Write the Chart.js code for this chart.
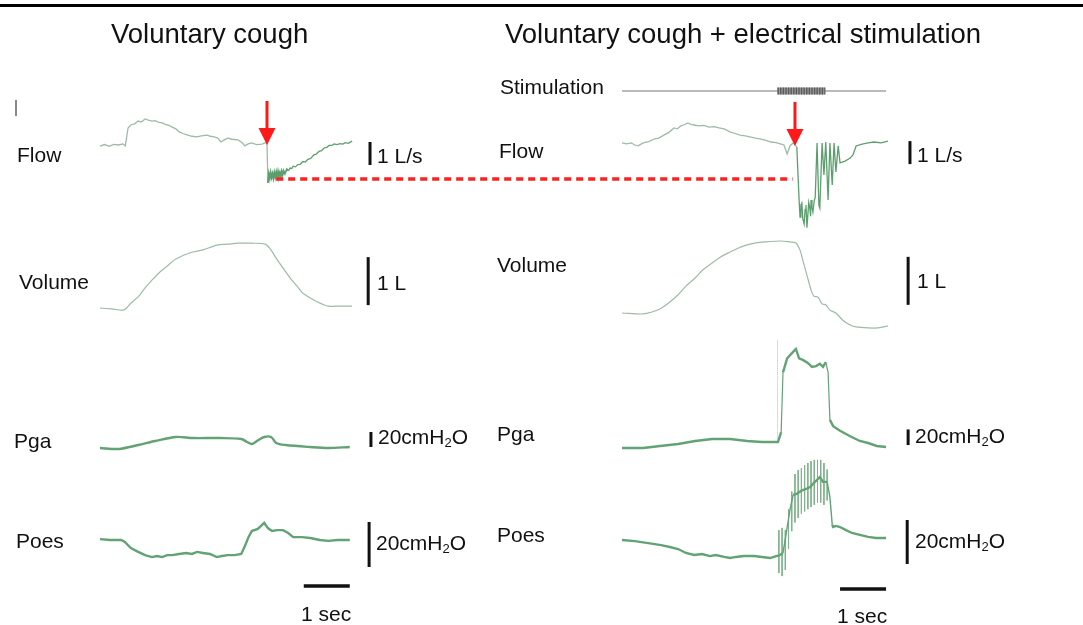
<!DOCTYPE html>
<html>
<head>
<meta charset="utf-8">
<script src="https://cdn.jsdelivr.net/npm/chart.js@4.4.1/dist/chart.umd.min.js"></script>
<style>
body { margin: 0; background: #fff; }
#wrap { position: relative; width: 1083px; height: 625px; overflow: hidden; font-family: Arial, "Liberation Sans", sans-serif; color: #111; }
#wrap canvas { position: absolute; left: 0; top: 0; }
.tt { position: absolute; font-size: 27.5px; line-height: 27px; white-space: nowrap; }
.lb { position: absolute; font-size: 21px; line-height: 21px; white-space: nowrap; }
.lb sub { font-size: 13px; line-height: 0; vertical-align: -3px; }
#rule { position: absolute; left: 0; top: 4px; width: 1083px; height: 3px; background: #000; }
#tick { position: absolute; left: 15px; top: 100px; width: 1.5px; height: 16px; background: #888; }
</style>
</head>
<body>
<div id="wrap">
  <canvas id="c" width="1083" height="625"></canvas>
  <div id="rule"></div>
  <div id="tick"></div>
  <div class="tt" style="left:111px;top:20px">Voluntary cough</div>
  <div class="tt" style="left:505px;top:20px">Voluntary cough + electrical stimulation</div>

  <div class="lb" style="left:17px;top:144px">Flow</div>
  <div class="lb" style="left:19px;top:271px">Volume</div>
  <div class="lb" style="left:14px;top:430px">Pga</div>
  <div class="lb" style="left:16px;top:530px">Poes</div>

  <div class="lb" style="left:500px;top:76px">Stimulation</div>
  <div class="lb" style="left:499px;top:140px">Flow</div>
  <div class="lb" style="left:497px;top:254px">Volume</div>
  <div class="lb" style="left:497px;top:423px">Pga</div>
  <div class="lb" style="left:497px;top:524px">Poes</div>

  <div class="lb" style="left:377px;top:145px">1 L/s</div>
  <div class="lb" style="left:917px;top:144px">1 L/s</div>
  <div class="lb" style="left:377px;top:272px">1 L</div>
  <div class="lb" style="left:917px;top:270px">1 L</div>
  <div class="lb" style="left:378px;top:426px">20cmH<sub>2</sub>O</div>
  <div class="lb" style="left:915px;top:425px">20cmH<sub>2</sub>O</div>
  <div class="lb" style="left:376px;top:532px">20cmH<sub>2</sub>O</div>
  <div class="lb" style="left:915px;top:530px">20cmH<sub>2</sub>O</div>
  <div class="lb" style="left:301px;top:603px">1 sec</div>
  <div class="lb" style="left:837px;top:605px">1 sec</div>
</div>
<script>
// traces: [time s, value]; flow L/s, volume L, pressures cmH2O
const flowLeft = [[0,-0.05],[0.1,0.02],[0.2,-0.06],[0.3,0.03],[0.4,0.0],[0.5,0.05],[0.55,-0.04],[0.61,0.74],[0.67,0.87],[0.75,0.92],
  [0.83,1.04],[0.9,1.0],[0.98,1.13],[1.05,1.08],[1.13,1.04],[1.2,1.06],[1.28,0.98],[1.35,0.96],[1.42,0.9],[1.5,0.85],
  [1.57,0.78],[1.65,0.7],[1.72,0.57],[1.8,0.5],[1.91,0.43],[2.0,0.38],[2.11,0.35],[2.2,0.4],[2.33,0.43],[2.4,0.38],
  [2.48,0.35],[2.56,0.3],[2.63,0.13],[2.7,0.22],[2.78,0.3],[2.87,0.25],[3.0,0.22],[3.08,0.12],[3.15,-0.04],[3.22,0.05],
  [3.3,0.09],[3.4,0.02],[3.52,0.04],[3.6,0.1],[3.63,0.09],[3.65,-1.65],[3.67,-1.25],[3.69,-1.45],[3.71,-1.2],[3.73,-1.42],
  [3.75,-1.25],[3.77,-1.45],[3.79,-1.2],[3.81,-1.4],[3.83,-1.18],[3.85,-1.38],[3.87,-1.15],[3.89,-1.35],[3.91,-1.2],[3.93,-1.38],
  [3.95,-1.15],[3.97,-1.3],[3.99,-1.12],[4.02,-1.25],[4.06,-1.05],[4.1,-1.12],[4.13,-1.0],[4.17,-1.02],[4.2,-0.92],[4.25,-0.95],
  [4.3,-0.85],[4.35,-0.84],[4.41,-0.72],[4.46,-0.74],[4.52,-0.62],[4.58,-0.58],[4.65,-0.43],[4.7,-0.4],[4.76,-0.28],[4.82,-0.25],
  [4.87,-0.13],[4.93,-0.1],[4.98,-0.02],[5.04,-0.02],[5.09,0.05],[5.15,0.02],[5.22,0.06],[5.28,0.04],[5.33,0.1],[5.4,0.07],[5.48,0.17]];
const flowRight = [[0,0.09],[0.1,0.05],[0.2,0.09],[0.28,0.0],[0.35,-0.04],[0.46,0.09],[0.58,0.15],[0.7,0.26],[0.8,0.3],[0.91,0.43],
  [1.02,0.55],[1.13,0.74],[1.2,0.7],[1.28,0.83],[1.35,0.88],[1.43,0.96],[1.5,0.9],[1.57,0.87],[1.67,0.83],[1.78,0.85],
  [1.89,0.78],[2.0,0.8],[2.11,0.74],[2.22,0.7],[2.35,0.57],[2.46,0.5],[2.57,0.43],[2.68,0.4],[2.78,0.35],[2.9,0.3],
  [3.02,0.26],[3.13,0.2],[3.24,0.13],[3.35,0.1],[3.46,0.04],[3.52,0.0],[3.59,-0.39],[3.65,-0.04],[3.72,0.09],[3.8,-0.09],
  [3.85,-2.39],[3.87,-3.13],[3.89,-2.6],[3.91,-2.52],[3.93,-3.2],[3.96,-3.43],[3.98,-2.8],[4.0,-2.61],[4.02,-3.6],[4.04,-3.04],
  [4.06,-2.5],[4.08,-2.7],[4.1,-3.1],[4.11,-2.39],[4.13,-2.7],[4.15,-2.91],[4.18,-2.4],[4.2,-2.3],[4.24,0.09],[4.28,-2.61],
  [4.3,-2.74],[4.35,0.09],[4.39,-1.3],[4.43,0.13],[4.48,-2.39],[4.52,0.09],[4.57,-1.74],[4.61,0.09],[4.65,-1.17],[4.7,-0.04],
  [4.74,-0.78],[4.85,-0.7],[4.96,-0.57],[5.02,-0.43],[5.09,-0.04],[5.22,0.04],[5.35,0.09],[5.48,0.13],[5.63,0.09],[5.78,0.17]];
const volumeLeft = [[0,0],[0.26,-0.02],[0.52,-0.04],[0.67,0.1],[0.83,0.23],[0.98,0.42],[1.13,0.58],[1.28,0.73],[1.43,0.85],[1.65,1.02],
  [1.96,1.15],[2.24,1.21],[2.54,1.31],[2.78,1.33],[3.0,1.35],[3.3,1.35],[3.59,1.33],[3.7,1.23],[3.83,1.04],[3.98,0.83],
  [4.13,0.63],[4.28,0.46],[4.41,0.31],[4.57,0.21],[4.72,0.13],[4.96,0.04],[5.22,0.04],[5.48,0.04]];
const volumeRight = [[0,0],[0.46,-0.02],[0.65,0.02],[0.85,0.1],[1.04,0.23],[1.22,0.38],[1.39,0.56],[1.59,0.73],[1.76,0.9],[1.96,1.04],
  [2.15,1.17],[2.35,1.27],[2.52,1.35],[2.72,1.42],[2.91,1.46],[3.09,1.48],[3.46,1.5],[3.65,1.48],[3.78,1.46],[3.87,1.31],
  [3.93,1.1],[4.02,0.79],[4.11,0.48],[4.17,0.35],[4.26,0.33],[4.35,0.19],[4.43,0.17],[4.52,0.06],[4.65,0],[4.8,-0.15],
  [4.96,-0.25],[5.09,-0.29],[5.35,-0.31],[5.57,-0.31],[5.78,-0.27]];
const pgaLeft = [[0,0],[0.41,-1.3],[0.83,4],[1.2,9.3],[1.65,14.7],[2.02,13.3],[2.63,13.3],[3.07,12],[3.2,8],[3.3,5.3],
  [3.41,9.3],[3.57,14.7],[3.72,14.7],[3.83,6.7],[4.04,4],[4.57,1.3],[4.96,0],[5.43,1.3]];
const pgaRight = [[0,0],[0.46,0],[0.83,2.6],[1.22,5.1],[1.59,9],[1.96,11.5],[2.35,11.5],[2.72,9],[3.04,7.7],[3.39,7.7],
  [3.46,20.5],[3.5,97],[3.59,115],[3.7,122],[3.78,127],[3.85,115],[3.93,113],[4.04,109],[4.13,104],[4.22,105],
  [4.3,108],[4.37,104],[4.43,110],[4.48,97],[4.52,36],[4.59,28],[4.74,22],[4.96,15],[5.17,9],[5.35,6.4],[5.54,2.6],[5.74,1.3]];
const poesLeft = [[0,0.4],[0.22,0],[0.46,0],[0.54,-0.9],[0.67,-3.6],[0.83,-5.3],[0.98,-6.7],[1.13,-7.6],[1.24,-7.1],[1.35,-7.6],
  [1.46,-6.7],[1.57,-6.7],[1.72,-6.2],[1.87,-5.8],[2.0,-6.2],[2.11,-5.3],[2.24,-5.8],[2.39,-6.2],[2.54,-7.6],[2.65,-7.1],
  [2.78,-6.7],[2.93,-6.7],[3.07,-6.2],[3.15,-2.7],[3.22,0.9],[3.3,4],[3.43,4.9],[3.57,7.6],[3.65,5.3],[3.74,4],
  [3.85,4.4],[3.98,4.4],[4.09,3.1],[4.2,1.3],[4.39,1.3],[4.57,0.9],[4.78,0],[4.96,-0.4],[5.17,0],[5.43,0]];
const poesRight = [[0,0],[0.28,-0.5],[0.57,-1.4],[0.85,-2.3],[1.04,-3.2],[1.22,-4.1],[1.39,-5.9],[1.57,-6.8],[1.74,-6.4],[1.91,-7.3],
  [2.04,-6.8],[2.22,-7.7],[2.35,-8.2],[2.48,-7.7],[2.65,-7.3],[2.87,-7.3],[3.04,-7.7],[3.22,-8.2],[3.35,-7.3],[3.42,-7.0],
  [3.5,-5.9],[3.57,3],[3.65,13.6],[3.72,20.5],[3.8,21],[3.87,22],[3.93,22.7],[4.0,23.2],[4.09,24.1],[4.15,25.5],
  [4.24,27.3],[4.3,28.6],[4.37,26.4],[4.46,26.4],[4.52,19.5],[4.57,7],[4.59,5.9],[4.65,6.4],[4.74,5.9],[4.87,4.5],
  [5.0,3.2],[5.17,2.3],[5.35,1.4],[5.52,0.9],[5.74,0.9]];
// stimulation artefacts on Poes: [time s, low, high] cmH2O
const poesArtefacts = [[3.41,-15,4.5],[3.48,-16.4,5.5],[3.55,-13.6,4.5],[3.62,-4,14],[3.69,4,22],[3.76,8,30],[3.83,10,31.8],
  [3.9,12,32.7],[3.97,13,34],[4.04,14,35],[4.11,15,35.9],[4.18,16,36.4],[4.25,17,36.4],[4.32,17,36.4],[4.39,16,35],[4.46,18,32]];

const coughOnset = { left: 3.63, right: 3.76 };      // s
const peakCoughFlow = -1.48;                          // L/s, voluntary cough
const stimWindow = [3.38, 4.42];                      // s
const stimTrace = [0, 5.74];                          // s
const calib = { flow: 1, volume: 1, pressure: 20, time: 1 };

// layout
const W = 1083, H = 625, pxPerSec = 46;
const xAt = px0 => ({ type: 'linear', axis: 'x', display: false, bounds: 'data', min: -px0 / pxPerSec, max: (W - px0) / pxPerSec });
const yAt = (pxZero, pxPerUnit) => ({ type: 'linear', axis: 'y', display: false, bounds: 'data', min: (pxZero - H) / pxPerUnit, max: pxZero / pxPerUnit });

const scales = {
  xL: xAt(100), xR: xAt(622),
  yFlowL: yAt(145, 23), yFlowR: yAt(145, 23),
  yVolL: yAt(308, 48), yVolR: yAt(313, 48),
  yPgaL: yAt(448, 0.75), yPgaR: yAt(448, 0.78),
  yPoesL: yAt(540, 2.25), yPoesR: yAt(540, 2.2),
  yStim: yAt(91, 1)
};

const grey = '#9dbba6', green = '#5c9f6e', press = '#62a274';
const steep = ctx => Math.abs(ctx.p1.y - ctx.p0.y) > 3 * Math.abs(ctx.p1.x - ctx.p0.x) + 2;

const trace = (data, x, y, color, width, extra) => Object.assign({
  data: data.map(([t, v]) => ({ x: t, y: v })),
  xAxisID: x, yAxisID: y, borderColor: color, borderWidth: width,
  pointRadius: 0, tension: 0, fill: false
}, extra || {});

const datasets = [
  trace(flowLeft, 'xL', 'yFlowL', grey, 1.3, { segment: {
    borderColor: c => c.p0.parsed.x > coughOnset.left ? green : grey,
    borderWidth: c => c.p0.parsed.x > coughOnset.left && c.p0.parsed.x < 4.1 ? 1.8 : 1.3 } }),
  trace(flowRight, 'xR', 'yFlowR', grey, 1.3, { segment: {
    borderColor: c => c.p0.parsed.x > coughOnset.right ? green : grey } }),
  trace(volumeLeft, 'xL', 'yVolL', grey, 1.2, { tension: 0.3 }),
  trace(volumeRight, 'xR', 'yVolR', grey, 1.2, { tension: 0.3 }),
  trace(pgaLeft, 'xL', 'yPgaL', press, 2.4, { tension: 0.3 }),
  trace(pgaRight, 'xR', 'yPgaR', press, 2.4, { segment: { borderWidth: c => steep(c) ? 1.2 : 2.4 } }),
  trace(poesLeft, 'xL', 'yPoesL', press, 2.4),
  trace(poesRight, 'xR', 'yPoesR', press, 2.4, { segment: { borderWidth: c => steep(c) ? 1.4 : 2.4 } }),
  {
    data: poesArtefacts.flatMap(([t, lo, hi]) => [{ x: t, y: hi }, { x: t, y: lo }, { x: t, y: null }]),
    xAxisID: 'xR', yAxisID: 'yPoesR', borderColor: '#7fb38c', borderWidth: 1,
    pointRadius: 0, spanGaps: false, fill: false
  }
];

const bars = [
  { x: 'xL', y: 'yFlowL', t: 5.87, from: -0.87, size: calib.flow },
  { x: 'xR', y: 'yFlowR', t: 6.26, from: -0.83, size: calib.flow },
  { x: 'xL', y: 'yVolL', t: 5.83, from: 0.06, size: calib.volume },
  { x: 'xR', y: 'yVolR', t: 6.22, from: 0.17, size: calib.volume },
  { x: 'xL', y: 'yPgaL', t: 5.89, from: 1.3, size: calib.pressure },
  { x: 'xR', y: 'yPgaR', t: 6.22, from: 3.8, size: calib.pressure },
  { x: 'xL', y: 'yPoesL', t: 5.85, from: -12, size: calib.pressure },
  { x: 'xR', y: 'yPoesR', t: 6.2, from: -10.9, size: calib.pressure }
];
const timeBars = [
  { x: 'xL', y: 'yPoesL', v: -20.4, from: 4.43, size: calib.time },
  { x: 'xR', y: 'yPoesR', v: -22.3, from: 4.74, size: calib.time }
];
const arrows = [
  { x: 'xL', y: 'yFlowL', t: coughOnset.left, tip: 0 },
  { x: 'xR', y: 'yFlowR', t: coughOnset.right, tip: -0.04 }
];

const marks = {
  id: 'marks',
  afterDatasetsDraw(chart) {
    const c = chart.ctx, s = chart.scales;
    c.save();
    // stimulation channel
    const ys = s.yStim.getPixelForValue(0);
    const x0 = s.xR.getPixelForValue(stimWindow[0]), x1 = s.xR.getPixelForValue(stimWindow[1]);
    c.strokeStyle = '#a3a3a3'; c.lineWidth = 1.3;
    c.beginPath(); c.moveTo(s.xR.getPixelForValue(stimTrace[0]), ys); c.lineTo(s.xR.getPixelForValue(stimTrace[1]), ys); c.stroke();
    c.fillStyle = '#9a9a9a';
    c.fillRect(x0, ys - 3.5, x1 - x0, 7);
    c.strokeStyle = '#5a5a5a'; c.lineWidth = 7; c.setLineDash([1.4, 1.2]);
    c.beginPath(); c.moveTo(x0, ys); c.lineTo(x1, ys); c.stroke();
    // stimulation onset marker on Pga
    c.strokeStyle = '#b5b5b5'; c.lineWidth = 1; c.setLineDash([1, 1]);
    c.beginPath(); c.moveTo(x0, s.yPgaR.getPixelForValue(138)); c.lineTo(x0, s.yPgaR.getPixelForValue(10)); c.stroke();
    c.setLineDash([]);
    // calibration bars
    c.strokeStyle = '#111'; c.lineWidth = 3;
    bars.forEach(b => {
      const x = s[b.x].getPixelForValue(b.t);
      c.beginPath(); c.moveTo(x, s[b.y].getPixelForValue(b.from)); c.lineTo(x, s[b.y].getPixelForValue(b.from + b.size)); c.stroke();
    });
    c.lineWidth = 3.5;
    timeBars.forEach(b => {
      const y = s[b.y].getPixelForValue(b.v);
      c.beginPath(); c.moveTo(s[b.x].getPixelForValue(b.from), y); c.lineTo(s[b.x].getPixelForValue(b.from + b.size), y); c.stroke();
    });
    // peak flow of the voluntary cough carried across
    c.strokeStyle = '#ff2020'; c.lineWidth = 3.5; c.setLineDash([7, 5]);
    const yp = s.yFlowL.getPixelForValue(peakCoughFlow);
    c.beginPath(); c.moveTo(s.xL.getPixelForValue(coughOnset.left + 0.2), yp); c.lineTo(s.xR.getPixelForValue(coughOnset.right - 0.05), yp); c.stroke();
    c.setLineDash([]);
    // arrows at cough onset
    c.fillStyle = '#ff1a1a'; c.strokeStyle = '#ff1a1a'; c.lineWidth = 3;
    arrows.forEach(a => {
      const x = s[a.x].getPixelForValue(a.t), yt = s[a.y].getPixelForValue(a.tip);
      c.beginPath(); c.moveTo(x, yt - 44); c.lineTo(x, yt - 14); c.stroke();
      c.beginPath(); c.moveTo(x - 8.5, yt - 17); c.lineTo(x + 8.5, yt - 17); c.lineTo(x, yt); c.closePath(); c.fill();
    });
    c.restore();
  }
};

new Chart(document.getElementById('c'), {
  type: 'line',
  data: { datasets },
  options: {
    responsive: false,
    animation: false,
    events: [],
    layout: { padding: 0 },
    plugins: { legend: { display: false }, tooltip: { enabled: false } },
    scales
  },
  plugins: [marks]
});
</script>
</body>
</html>
